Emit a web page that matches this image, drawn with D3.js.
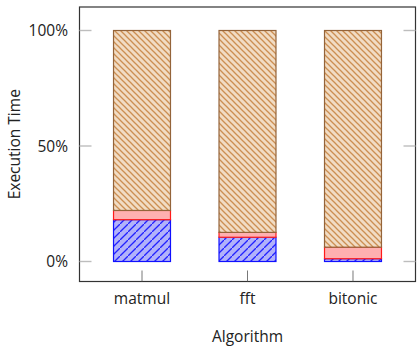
<!DOCTYPE html>
<html>
<head>
<meta charset="utf-8">
<script src="https://cdn.jsdelivr.net/npm/d3@7"></script>
<style>
  html, body { margin: 0; padding: 0; background: #fff; }
  svg { display: block; }
  text { font-family: "Open Sans", "DejaVu Sans", sans-serif; fill: #222; }
</style>
</head>
<body>
<svg id="chart" width="417" height="348"></svg>
<script>
// Algorithms on the x axis
const categories = ["matmul", "fft", "bitonic"];
// Share of execution time per phase (stacked bottom to top)
const computeShare = [0.181, 0.105, 0.012];
const syncShare    = [0.040, 0.021, 0.050];
const otherShare   = [0.779, 0.874, 0.938];
// Y axis ticks
const yTickValues = [0, 0.5, 1];
const yTickLabels = ["0%", "50%", "100%"];

const svg = d3.select("#chart");
const frame = { left: 79.5, right: 415.5, top: 7, bottom: 281.5 };

const x = d3.scaleBand()
  .domain(categories)
  .range([frame.left, frame.right])
  .paddingInner(0.46)
  .paddingOuter(0.3225);

const y = d3.scaleLinear().domain([0, 1]).range([261.5, 30.5]);

// Diagonal hatch patterns: "ne" rises to the right, "nw" falls to the right
const defs = svg.append("defs");
function hatch(id, size, bg, line, width, dir) {
  const p = defs.append("pattern")
    .attr("id", id)
    .attr("patternUnits", "userSpaceOnUse")
    .attr("width", size).attr("height", size);
  p.append("rect").attr("width", size).attr("height", size).attr("fill", bg);
  const segs = dir === "ne"
    ? [[-1, size + 1, size + 1, -1], [-size - 1, 1, 1, -size - 1], [size - 1, 2 * size + 1, 2 * size + 1, size - 1]]
    : [[-1, -1, size + 1, size + 1], [-size - 1, -1, 1, size + 1], [size - 1, -1, 2 * size + 1, size + 1]];
  segs.forEach(s => {
    p.append("line")
      .attr("x1", s[0]).attr("y1", s[1]).attr("x2", s[2]).attr("y2", s[3])
      .attr("stroke", line).attr("stroke-width", width);
  });
}
hatch("hatchBlue", 8, "#b2b2fa", "#2323ff", 1.3, "ne");
hatch("hatchBrown", 6, "#f1dcc4", "#cc8f52", 1.3, "nw");

const series = [
  { key: "compute", values: computeShare, fill: "url(#hatchBlue)", stroke: "#1010ff" },
  { key: "sync",    values: syncShare,    fill: "#ffb0b0",         stroke: "#ff1a1a" },
  { key: "other",   values: otherShare,   fill: "url(#hatchBrown)", stroke: "#94643a" }
];

// Stack the shares
const rows = categories.map((c, i) => {
  const r = { cat: c };
  series.forEach(s => { r[s.key] = s.values[i]; });
  return r;
});
const stacked = d3.stack().keys(series.map(s => s.key))(rows);

// Frame
svg.append("rect")
  .attr("x", frame.left).attr("y", frame.top)
  .attr("width", frame.right - frame.left).attr("height", frame.bottom - frame.top)
  .attr("fill", "none").attr("stroke", "#333").attr("stroke-width", 1.2);

// Y ticks on both sides (inward)
const tickLen = 12;
yTickValues.forEach(v => {
  svg.append("line")
    .attr("x1", frame.left).attr("x2", frame.left + tickLen)
    .attr("y1", y(v)).attr("y2", y(v))
    .attr("stroke", "#bdbdbd").attr("stroke-width", 1.4);
  svg.append("line")
    .attr("x1", frame.right - tickLen).attr("x2", frame.right)
    .attr("y1", y(v)).attr("y2", y(v))
    .attr("stroke", "#bdbdbd").attr("stroke-width", 1.4);
});

// X ticks along the bottom (inward)
categories.forEach(c => {
  const cx = x(c) + x.bandwidth() / 2;
  svg.append("line")
    .attr("x1", cx).attr("x2", cx)
    .attr("y1", frame.bottom).attr("y2", frame.bottom - 11)
    .attr("stroke", "#555").attr("stroke-width", 0.8);
});

// Bars
stacked.forEach((layer, li) => {
  const s = series[li];
  svg.append("g").selectAll("rect")
    .data(layer)
    .join("rect")
    .attr("x", d => x(d.data.cat))
    .attr("width", x.bandwidth())
    .attr("y", d => y(d[1]))
    .attr("height", d => y(d[0]) - y(d[1]))
    .attr("fill", s.fill)
    .attr("stroke", s.stroke)
    .attr("stroke-width", 1.2);
});

// Y tick labels
svg.append("g").selectAll("text")
  .data(yTickValues)
  .join("text")
  .attr("x", 68)
  .attr("y", d => y(d))
  .attr("dy", "0.36em")
  .attr("text-anchor", "end")
  .attr("font-size", 15.5)
  .text((d, i) => yTickLabels[i]);

// X tick labels
svg.append("g").selectAll("text")
  .data(categories)
  .join("text")
  .attr("x", d => x(d) + x.bandwidth() / 2)
  .attr("y", 304)
  .attr("text-anchor", "middle")
  .attr("font-size", 15.5)
  .text(d => d);

// Axis titles
svg.append("text")
  .attr("x", (frame.left + frame.right) / 2)
  .attr("y", 342)
  .attr("text-anchor", "middle")
  .attr("font-size", 15.5)
  .text("Algorithm");

svg.append("text")
  .attr("transform", `translate(20, ${(frame.top + frame.bottom) / 2}) rotate(-90)`)
  .attr("text-anchor", "middle")
  .attr("font-size", 15.5)
  .text("Execution Time");
</script>
</body>
</html>
